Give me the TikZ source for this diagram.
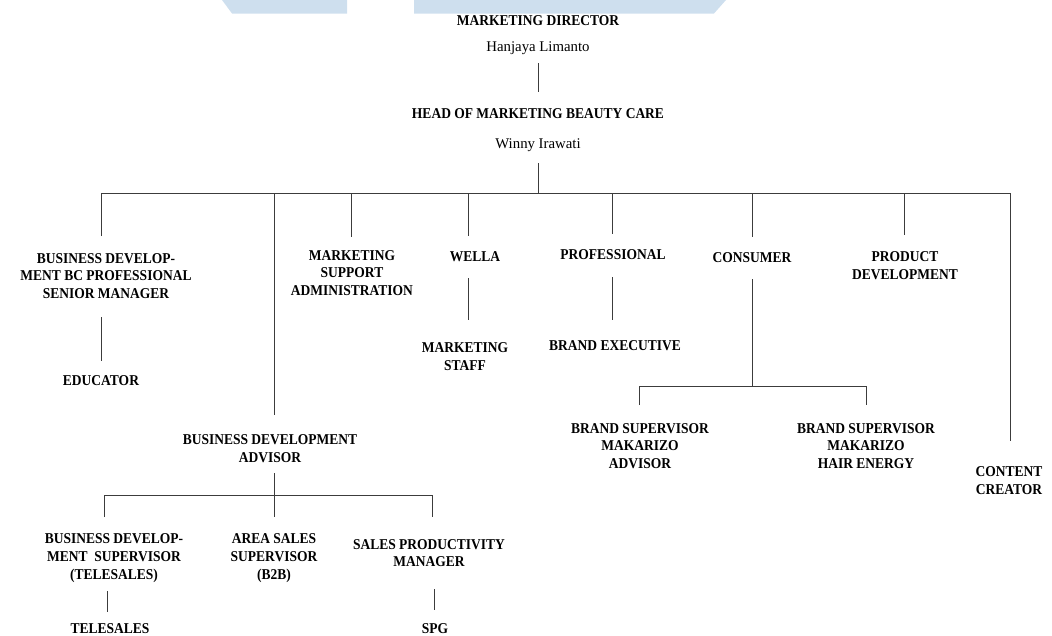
\documentclass[tikz,border=0pt]{standalone}
\usepackage{fontspec}
\setmainfont{Liberation Serif}
\newfontfamily\rolefont{Liberation Serif}[FakeStretch=0.9]
\definecolor{wm}{RGB}{206,223,238}
\definecolor{ln}{RGB}{60,60,60}
\begin{document}
\begin{tikzpicture}[x=1pt,y=-1pt,
  role/.style={font=\rolefont\bfseries\fontsize{15}{17.8}\selectfont, align=center, inner sep=0pt},
  person/.style={font=\fontsize{14.8}{17}\selectfont, inner sep=0pt},
  link/.style={draw=ln, line width=1pt}]
\useasboundingbox (0,0) rectangle (1052,635);
% watermark shapes
\fill[wm] (222,0) -- (347,0) -- (347,13.5) -- (232,13.5) -- cycle;
\fill[wm] (414,0) -- (726,0) -- (714,13.5) -- (414,13.5) -- cycle;
% nodes
\node[role] (md) at (538,21) {MARKETING DIRECTOR};
\node[person] (hl) at (538,48) {Hanjaya Limanto};
\node[role] (head) at (538,114) {HEAD OF MARKETING BEAUTY CARE};
\node[person] (wi) at (538,145) {Winny Irawati};
\node[role] (bdbc) at (106,276) {BUSINESS DEVELOP-\\MENT BC PROFESSIONAL\\SENIOR MANAGER};
\node[role] (edu) at (101,381) {EDUCATOR};
\node[role] (msa) at (352,273) {MARKETING\\SUPPORT\\ADMINISTRATION};
\node[role] (wella) at (475,257) {WELLA};
\node[role] (mstaff) at (465,356.5) {MARKETING\\STAFF};
\node[role] (prof) at (613,255) {PROFESSIONAL};
\node[role] (be) at (615,346) {BRAND EXECUTIVE};
\node[role] (cons) at (752,258) {CONSUMER};
\node[role] (pd) at (905,265.5) {PRODUCT\\DEVELOPMENT};
\node[role] (bsma) at (640,446) {BRAND SUPERVISOR\\MAKARIZO\\ADVISOR};
\node[role] (bsmh) at (866,446) {BRAND SUPERVISOR\\MAKARIZO\\HAIR ENERGY};
\node[role] (cc) at (1009,481) {CONTENT\\CREATOR};
\node[role] (bda) at (270,449) {BUSINESS DEVELOPMENT\\ADVISOR};
\node[role] (bds) at (114,558) {BUSINESS DEVELOP-\\MENT\ \ SUPERVISOR\\(TELESALES)};
\node[role] (ass) at (274,558) {AREA SALES\\SUPERVISOR\\(B2B)};
\node[role] (spm) at (429,553) {SALES PRODUCTIVITY\\MANAGER};
\node[role] (tel) at (110,628.5) {TELESALES};
\node[role] (spg) at (435,628.5) {SPG};
% coordinates
\coordinate (mdB) at (538,63);
\coordinate (headT) at (538,92);
\coordinate (wiB) at (538,163);
\coordinate (bar) at (538,193);
\coordinate (barL) at (101,193);
\coordinate (barR) at (1010.5,193);
\coordinate (bdbcT) at (101,236);
\coordinate (bdbcB) at (101,317);
\coordinate (eduT) at (101,361);
\coordinate (bdaTop) at (274,193);
\coordinate (bdaT) at (274,415);
\coordinate (msaTop) at (351,193);
\coordinate (msaT) at (351,237);
\coordinate (wTop) at (468.5,193);
\coordinate (wT) at (468.5,236);
\coordinate (wB) at (468.5,278);
\coordinate (msT) at (468.5,320);
\coordinate (pTop) at (612,193);
\coordinate (pT) at (612,234);
\coordinate (pB) at (612,277);
\coordinate (beT) at (612,320);
\coordinate (cTop) at (752.5,193);
\coordinate (cT) at (752.5,237);
\coordinate (cB) at (752.5,279);
\coordinate (cBar) at (752.5,386);
\coordinate (cBarL) at (639,386);
\coordinate (cBarR) at (866,386);
\coordinate (bsmaT) at (639,405);
\coordinate (bsmhT) at (866,405);
\coordinate (pdTop) at (904.5,193);
\coordinate (pdT) at (904.5,235);
\coordinate (ccT) at (1010.5,441);
\coordinate (bdaB) at (274,473);
\coordinate (bdaBar) at (274,495);
\coordinate (bdaBarL) at (104,495);
\coordinate (bdaBarR) at (432,495);
\coordinate (bdsT) at (104,517);
\coordinate (assT) at (274,517);
\coordinate (spmT) at (432,517);
\coordinate (bdsB) at (107,591);
\coordinate (telT) at (107,612);
\coordinate (spmB) at (434,589);
\coordinate (spgT) at (434,610);
% connectors
\draw[link] (mdB) -- (headT);
\draw[link] (wiB) -- (bar);
\draw[link] (bdbcT) -- (barL) -- (barR) -- (ccT);
\draw[link] (bdbcB) -- (eduT);
\draw[link] (bdaTop) -- (bdaT);
\draw[link] (msaTop) -- (msaT);
\draw[link] (wTop) -- (wT);
\draw[link] (wB) -- (msT);
\draw[link] (pTop) -- (pT);
\draw[link] (pB) -- (beT);
\draw[link] (cTop) -- (cT);
\draw[link] (cB) -- (cBar);
\draw[link] (bsmaT) -- (cBarL) -- (cBarR) -- (bsmhT);
\draw[link] (pdTop) -- (pdT);
\draw[link] (bdaB) -- (bdaBar);
\draw[link] (bdsT) -- (bdaBarL) -- (bdaBarR) -- (spmT);
\draw[link] (bdaBar) -- (assT);
\draw[link] (bdsB) -- (telT);
\draw[link] (spmB) -- (spgT);
\end{tikzpicture}
\end{document}
